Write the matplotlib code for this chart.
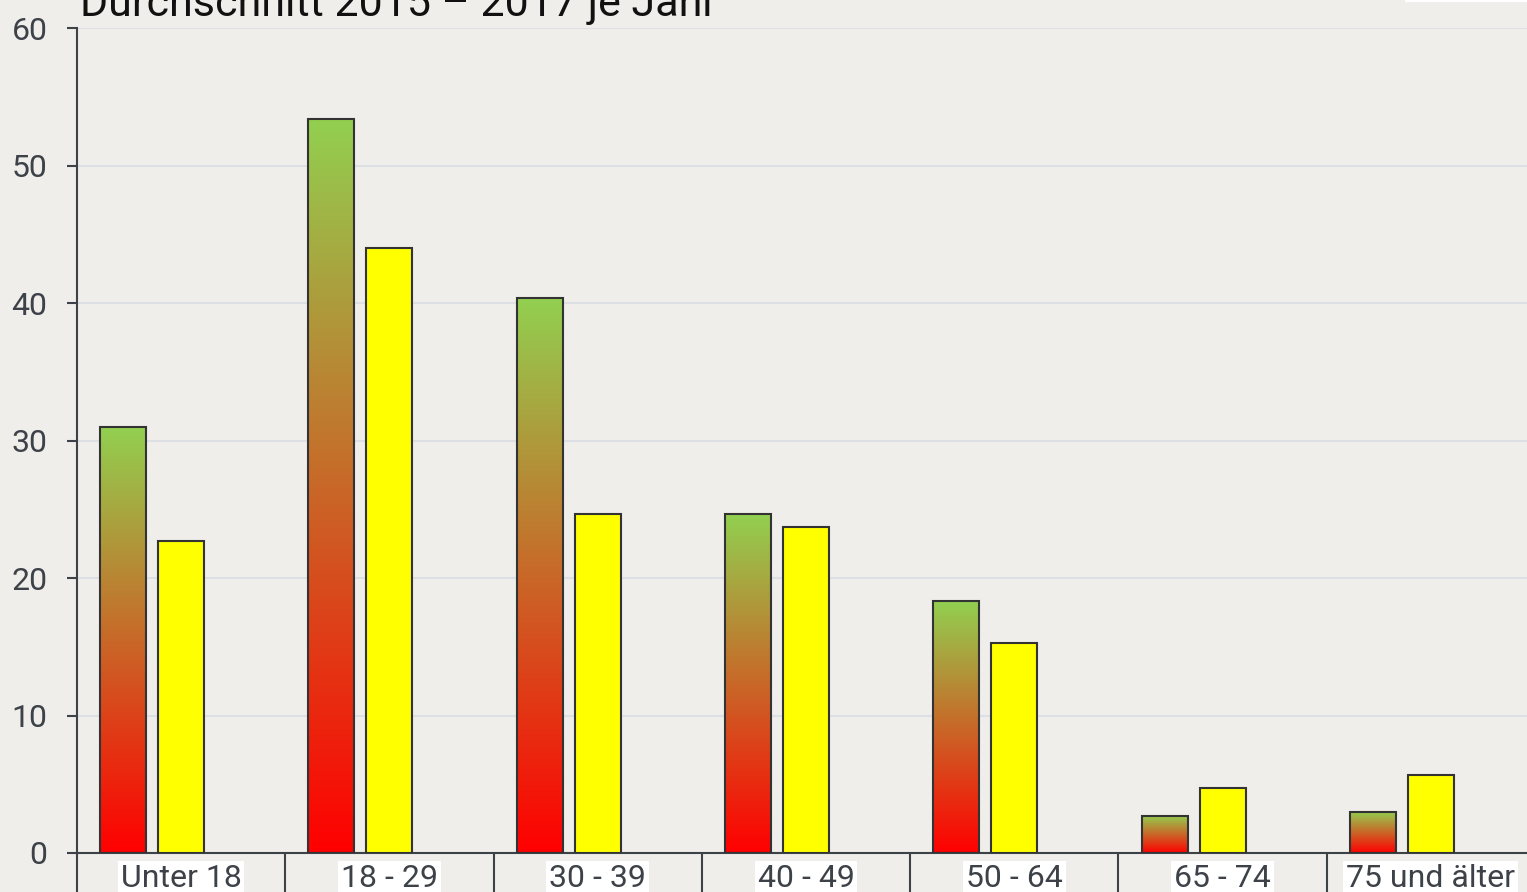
import numpy as np
import matplotlib
matplotlib.use("Agg")
import matplotlib.pyplot as plt
from matplotlib.colors import LinearSegmentedColormap

categories = ["Unter 18", "18 - 29", "30 - 39", "40 - 49", "50 - 64", "65 - 74", "75 und älter"]
series_a = [31.0, 53.4, 40.4, 24.65, 18.3, 2.7, 3.0]
series_b = [22.7, 44.0, 24.65, 23.7, 15.3, 4.7, 5.7]
y_ticks = [0, 10, 20, 30, 40, 50, 60]
title = "Durchschnitt 2015 \u2013 2017 je Jahr"

plt.rcParams['font.family'] = ['Roboto', 'DejaVu Sans']
bg = "#EFEEEA"
txt = "#3D4148"
edge = "#333333"
grad = LinearSegmentedColormap.from_list("rg", ["#FF0000", "#92D050"])

W, H = 1527, 892
fig = plt.figure(figsize=(W / 100, H / 100), dpi=100, facecolor=bg)
ax = fig.add_axes([77 / W, (H - 853) / H, (1535 - 77) / W, (853 - 28) / H], facecolor=bg)

x = np.arange(len(categories))
bw = 46 / 208.3
off = 58 / 208.3

ax.set_xlim(-0.5, len(categories) - 0.5)
ax.set_ylim(0, 60)
ax.set_yticks(y_ticks)
ax.yaxis.grid(True, color="#DCDFE3", linewidth=1.5, zorder=0)
ax.set_axisbelow(True)

g = np.linspace(0, 1, 256).reshape(-1, 1)
for xi, v in zip(x, series_a):
    x0 = xi - off - bw / 2
    ax.imshow(g, cmap=grad, origin="lower", aspect="auto",
              extent=[x0, x0 + bw, 0, v], zorder=2)
ax.bar(x - off, series_a, bw, fill=False, edgecolor=edge, linewidth=1.5, zorder=3)
ax.bar(x, series_b, bw, color="#FFFF00", edgecolor=edge, linewidth=1.5, zorder=3)
ax.set_xlim(-0.5, len(categories) - 0.5)
ax.set_ylim(0, 60)

for s in ["top", "right"]:
    ax.spines[s].set_visible(False)
for s in ["left", "bottom"]:
    ax.spines[s].set_color(txt)
    ax.spines[s].set_linewidth(1.5)

ax.tick_params(axis="y", colors=txt, labelsize=23, length=7.2, width=1.5, pad=14)
ax.set_xticks(x)
ax.set_xticklabels(categories)
ax.set_xticks(np.arange(len(categories) + 1) - 0.5, minor=True)
ax.tick_params(axis="x", which="major", length=0, pad=8, labelsize=23, labelcolor=txt)
ax.tick_params(axis="x", which="minor", length=40, width=1.5, color=txt)
for lab in ax.get_xticklabels():
    lab.set_bbox(dict(facecolor="white", edgecolor="none", pad=2))

fig.text(80 / W, 1 - 16 / H, title, fontsize=31, color="#111111", va="baseline", ha="left")
fig.patches.append(plt.Rectangle((1405 / W, 1 - 1.5 / H), 122 / W, 1.5 / H,
                                 transform=fig.transFigure, facecolor="white", edgecolor="none"))

fig.savefig("out.png", dpi=100, facecolor=bg)
